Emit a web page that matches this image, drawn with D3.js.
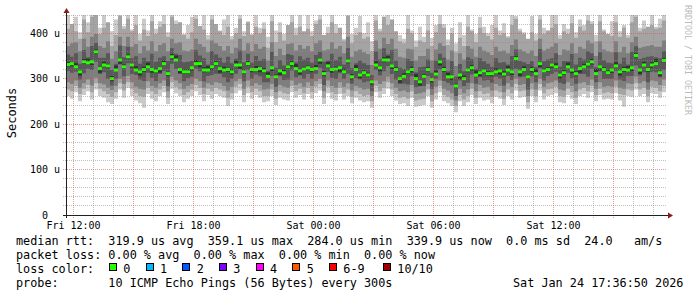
<!DOCTYPE html>
<html>
<head>
<meta charset="utf-8">
<script src="https://cdn.jsdelivr.net/npm/d3@7"></script>
<style>
  html, body { margin: 0; padding: 0; background: #fff; }
  svg { display: block; }
  text { font-family: "DejaVu Sans Mono", monospace; }
  .pre { white-space: pre; }
</style>
</head>
<body>
<svg id="chart"></svg>
<script>
// Median RTT (microseconds) for each 12 minute step, Fri 11:36:50 .. Sat 17:36:50
const medianRtt = [
  331,333,326,315,337,335,337,359,322,330,328,300,319,341,326,348,330,319,315,320,326,320,317,322,333,
  311,348,341,320,315,315,324,333,333,319,319,326,333,322,319,320,315,330,330,315,333,320,320,322,317,
  305,324,304,317,313,326,333,322,317,321,324,320,322,341,311,328,320,321,324,315,339,304,320,308,313,
  308,293,330,324,341,341,328,320,300,305,315,320,300,293,305,320,298,310,337,320,304,304,284,308,300,
  319,324,308,313,317,311,311,315,317,310,319,315,344,315,320,304,320,311,333,317,320,330,326,308,313,
  326,319,311,322,326,332,337,311,326,320,313,319,328,315,320,319,324,351,319,330,320,330,333,313,340
];

// Smoke: sorted ping values per step (ping 1 = fastest ... ping 10 = slowest)
const ping1 = [
  262,256,270,250,264,272,254,276,262,258,248,244,256,276,258,280,262,252,246,236,266,256,250,262,270,
  244,278,268,262,248,256,262,272,264,250,264,256,266,262,258,240,254,268,274,248,268,256,264,258,248,
  250,262,242,258,254,252,270,258,264,254,266,256,268,274,244,268,256,252,266,254,262,246,258,252,248,
  250,236,270,258,266,278,262,252,244,246,240,258,238,240,242,262,236,254,270,250,246,240,226,250,240,
  248,264,244,258,252,254,246,260,256,242,262,254,274,258,260,234,262,248,274,254,262,264,268,248,246,
  264,256,244,262,266,258,270,250,264,254,256,254,268,252,238,262,260,276,262,266,248,268,266,258,270
];
const ping2 = [
  276,272,284,266,278,286,270,290,278,272,266,260,270,290,274,292,278,268,262,260,280,272,266,276,284,
  258,292,282,276,264,270,276,286,280,266,278,272,280,276,272,258,268,282,288,264,282,270,278,272,262,
  262,276,256,272,268,266,284,272,278,268,280,270,282,288,258,282,270,266,280,268,276,260,272,266,262,
  264,250,284,272,280,292,276,266,258,260,256,272,252,254,256,276,250,268,284,264,260,254,240,264,254,
  262,278,258,272,266,268,260,274,270,256,276,268,288,272,274,248,276,262,288,268,276,278,282,262,260,
  278,270,258,276,280,272,284,264,278,268,270,268,282,266,264,276,274,290,276,280,262,282,280,272,284
];
const ping3 = [
  292,288,296,280,290,298,285,302,290,287,280,275,284,300,288,306,292,282,278,276,294,284,280,290,296,
  272,304,296,290,278,284,288,300,294,280,290,286,292,290,284,274,282,294,300,278,296,284,290,286,276,
  278,288,270,286,282,280,296,286,290,282,292,284,294,300,272,296,284,280,292,282,290,274,284,280,276,
  278,262,296,288,294,304,290,280,272,274,270,286,266,268,270,288,264,282,296,278,274,268,252,278,268,
  276,290,272,286,280,282,274,288,284,270,290,282,300,286,288,262,290,276,300,282,290,292,296,276,274,
  292,284,272,290,292,286,298,278,292,282,284,282,296,280,278,290,288,304,290,294,276,296,294,286,298
];
const ping4 = [
  317,313,315,298,312,322,319,337,310,314,300,285,300,331,305,334,310,308,298,295,313,302,295,310,317,
  283,333,322,310,294,301,304,322,316,294,306,308,311,310,303,292,300,311,320,294,319,300,309,305,292,
  292,306,282,305,297,298,318,303,307,300,310,300,311,324,286,315,302,299,312,299,311,289,301,298,292,
  294,273,319,307,316,328,310,298,288,289,287,305,281,283,284,306,278,299,320,295,291,286,262,296,284,
  291,309,289,303,296,297,291,304,300,285,306,297,322,303,304,276,305,292,323,296,306,310,315,291,288,
  313,301,289,310,310,304,322,292,316,299,299,299,317,298,295,306,306,329,307,314,292,315,314,303,319
];
const ping5 = [
  327,327,323,307,332,333,330,355,313,327,323,294,317,333,322,344,324,316,307,315,324,313,313,313,330,
  306,342,339,312,311,311,318,330,325,314,317,319,329,313,316,315,309,328,322,311,329,314,317,314,312,
  303,317,300,308,310,321,327,320,309,317,320,314,319,333,306,326,313,317,315,312,334,298,318,300,309,
  304,287,327,316,336,339,321,316,291,302,310,314,298,285,301,316,292,307,329,315,302,297,280,299,297,
  314,318,306,305,313,307,305,312,309,305,317,308,340,306,317,299,314,309,325,313,316,324,323,300,308,
  324,312,307,313,323,327,331,309,318,316,309,313,325,307,315,317,317,347,310,327,315,324,331,305,336
];
const ping6 = [
  336,336,334,319,343,344,340,364,324,337,332,306,329,344,331,353,333,327,319,326,335,323,322,324,340,
  315,354,351,323,320,320,327,341,337,325,328,329,338,324,326,324,321,340,333,320,338,323,328,326,323,
  314,327,309,319,320,330,339,332,320,326,329,323,330,345,317,337,323,326,326,322,343,310,330,311,318,
  313,296,338,328,347,350,331,325,302,312,319,326,310,296,310,325,301,318,341,326,313,307,289,310,307,
  323,330,318,316,322,316,314,323,321,316,328,318,349,317,327,308,326,321,336,322,325,333,334,312,319,
  335,322,316,324,333,336,343,321,329,325,318,322,336,319,326,328,327,356,321,337,324,336,343,316,345
];
const ping7 = [
  353,348,356,333,363,347,372,379,346,346,356,319,333,373,347,370,345,349,333,346,338,355,337,346,349,
  339,367,355,352,336,337,339,363,351,345,331,361,353,346,335,348,334,344,362,336,355,335,350,340,343,
  317,359,324,341,329,354,352,336,349,342,346,335,352,359,337,340,355,341,348,331,367,323,334,340,334,
  330,308,360,342,367,353,363,340,324,321,343,339,314,325,326,342,313,340,355,346,316,339,304,332,316,
  347,343,322,345,338,333,326,345,335,336,331,350,364,339,336,332,339,325,365,338,342,345,356,326,339,
  338,354,331,346,342,360,356,325,358,341,335,334,358,333,346,331,359,371,343,346,348,349,347,345,361
];
const ping8 = [
  372,378,380,360,388,370,392,398,372,368,382,344,360,392,372,392,370,376,356,372,362,382,360,374,378,
  360,388,378,380,362,360,364,388,376,370,358,384,378,372,362,372,356,368,388,362,378,360,376,366,370,
  340,380,350,366,352,376,378,362,374,366,372,360,378,384,362,364,380,366,372,356,392,348,360,364,358,
  354,330,384,366,390,376,388,366,348,346,366,364,340,350,350,366,340,364,378,372,342,362,328,356,342,
  372,366,348,370,362,358,352,370,360,362,356,374,386,364,360,356,362,350,388,362,366,370,378,352,364,
  362,378,356,370,366,384,378,350,382,364,360,358,382,358,370,356,380,392,368,370,372,374,370,370,384
];
const ping9 = [
  410,420,404,388,430,402,436,440,398,412,424,372,396,438,410,432,404,418,384,408,394,426,398,414,420,
  392,436,420,424,396,388,402,432,416,408,386,430,420,404,396,414,386,400,432,394,424,396,414,400,410,
  368,426,380,402,384,418,424,396,414,404,410,394,420,430,396,400,424,400,412,384,438,378,396,402,388,
  392,360,428,404,436,418,430,404,382,378,410,400,370,384,380,406,372,402,420,412,374,400,358,390,372,
  414,404,380,412,400,394,386,412,396,400,390,418,432,404,398,388,402,384,430,398,406,412,420,388,404,
  398,422,390,414,406,428,420,382,426,404,398,394,424,392,412,390,424,436,404,410,414,418,410,412,428
];
const ping10 = [
  450,418,436,402,450,424,450,438,412,450,396,404,430,450,416,440,408,450,398,432,406,450,410,426,450,
  402,450,428,412,398,418,436,450,404,442,396,450,420,406,430,450,394,412,450,404,426,398,450,412,424,
  392,450,406,424,398,416,450,412,440,400,446,404,428,450,396,414,450,420,402,388,450,398,412,438,400,
  424,382,450,410,436,450,422,402,396,388,446,406,384,414,392,442,390,418,450,420,386,412,378,424,396,
  450,408,398,436,414,400,418,450,406,422,394,450,438,410,402,386,438,398,450,412,404,444,450,396,420,
  410,450,402,430,418,450,426,396,450,408,392,426,440,404,418,396,450,446,412,428,402,450,414,432,450
];

const yTickValues = [0, 100, 200, 300, 400];
const lossLabels = ["0", "1", "2", "3", "4", "5", "6-9", "10/10"];
const lossColors = ["#26ff00", "#00b8ff", "#0059ff", "#7e00ff", "#ff00ff", "#ff5500", "#ff0000", "#a10000"];
const legendRows = [
  "median rtt:  319.9 us avg  359.1 us max  284.0 us min  339.9 us now  0.0 ms sd  24.0   am/s",
  "packet loss: 0.00 % avg  0.00 % max  0.00 % min  0.00 % now",
  "loss color:",
  "probe:       10 ICMP Echo Pings (56 Bytes) every 300s"
];
const stampText = "Sat Jan 24 17:36:50 2026";

const W = 697, H = 297;
const start = new Date(2026, 0, 23, 11, 36, 50);
const end = new Date(2026, 0, 24, 17, 36, 50);
const stepMinutes = 12;
const n = medianRtt.length;

const svg = d3.select("#chart").attr("width", W).attr("height", H);
svg.append("rect").attr("width", W).attr("height", H).attr("fill", "#fff");

const x = d3.scaleTime().domain([start, end]).range([66, 666]);
const y = d3.scaleLinear().domain([0, 440]).range([215, 15]);
const crisp = v => Math.floor(v) + 0.5;

svg.append("clipPath").attr("id", "plotclip")
  .append("rect").attr("x", 67).attr("y", 15).attr("width", 599).attr("height", 200);

const plot = svg.append("g").attr("clip-path", "url(#plotclip)");

// step boundaries
const times = d3.range(n + 1).map(i => d3.timeMinute.offset(start, i * stepMinutes));

// smoke: nested bands, outer (light) to inner (dark)
const bands = [
  { lo: ping1, hi: ping10, color: "#cacaca" },
  { lo: ping2, hi: ping9, color: "#a4a4a4" },
  { lo: ping3, hi: ping8, color: "#7e7e7e" },
  { lo: ping4, hi: ping7, color: "#585858" },
  { lo: ping5, hi: ping6, color: "#323232" }
];

const area = d3.area()
  .curve(d3.curveStepAfter)
  .x(d => x(d.t))
  .y0(d => y(d.lo))
  .y1(d => y(d.hi));

bands.forEach(b => {
  const pts = times.map((t, i) => ({
    t: t,
    lo: b.lo[Math.min(i, n - 1)],
    hi: b.hi[Math.min(i, n - 1)]
  }));
  plot.append("path").datum(pts).attr("fill", b.color).attr("d", area);
});

// grid (drawn over the smoke like rrdtool does)
const grid = svg.append("g");
d3.range(20, 441, 20).forEach(v => {
  const major = v % 100 === 0;
  grid.append("line")
    .attr("x1", 63).attr("x2", 666)
    .attr("y1", crisp(y(v))).attr("y2", crisp(y(v)))
    .attr("stroke", major ? "rgba(222,80,80,0.6)" : "rgba(140,140,140,0.55)")
    .attr("stroke-dasharray", "1,1");
});
d3.timeHour.range(start, end).forEach(t => {
  const major = t.getHours() % 3 === 0;
  grid.append("line")
    .attr("x1", crisp(x(t))).attr("x2", crisp(x(t)))
    .attr("y1", 15).attr("y2", 218)
    .attr("stroke", major ? "rgba(222,80,80,0.6)" : "rgba(140,140,140,0.55)")
    .attr("stroke-dasharray", "1,1");
});

// median rtt, coloured by loss (all 0 loss here)
plot.selectAll(".med")
  .data(medianRtt)
  .enter()
  .append("rect")
  .attr("x", (d, i) => x(times[i]))
  .attr("width", (d, i) => x(times[i + 1]) - x(times[i]))
  .attr("y", d => y(d) - 1.5)
  .attr("height", 3)
  .attr("fill", lossColors[0]);

// axes
svg.append("line")
  .attr("x1", 63).attr("x2", 668).attr("y1", 215.5).attr("y2", 215.5)
  .attr("stroke", "#202020");
svg.append("line")
  .attr("x1", 66.5).attr("x2", 66.5).attr("y1", 218).attr("y2", 12)
  .attr("stroke", "#202020");
svg.append("path")
  .attr("d", "M668,212.5 L673,215.5 L668,218.5 Z")
  .attr("fill", "#8b1a1a");
svg.append("path")
  .attr("d", "M63.5,13 L66.5,8 L69.5,13 Z")
  .attr("fill", "#8b1a1a");

// y tick labels
svg.selectAll(".ylab")
  .data(yTickValues)
  .enter()
  .append("text")
  .attr("x", d => d === 0 ? 48 : 60)
  .attr("y", d => y(d) + 3.6)
  .attr("text-anchor", "end")
  .attr("font-size", 10)
  .attr("fill", "#000")
  .text(d => d === 0 ? "0" : d + " u");

// x tick labels every 6 hours
const labelTimes = d3.timeHour.range(start, end).filter(t => t.getHours() % 6 === 0);
const fmt = d3.timeFormat("%a %H:%M");
svg.selectAll(".xlab")
  .data(labelTimes)
  .enter()
  .append("text")
  .attr("x", d => crisp(x(d)))
  .attr("y", 228.5)
  .attr("text-anchor", "middle")
  .attr("font-size", 10)
  .attr("fill", "#000")
  .text(d => fmt(d));

// y axis title
svg.append("text")
  .attr("transform", "translate(15.5,113) rotate(-90)")
  .attr("text-anchor", "middle")
  .attr("font-size", 12)
  .attr("fill", "#000")
  .text("Seconds");

// watermark
svg.append("text")
  .attr("transform", "translate(684.5,5) rotate(90)")
  .attr("font-size", 8.3)
  .attr("fill", "#bbbbbb")
  .text("RRDTOOL / TOBI OETIKER");

// legend
const rowY = [245.2, 258.8, 272.6, 286.6];
legendRows.forEach((row, i) => {
  svg.append("text")
    .attr("class", "pre")
    .attr("x", 16)
    .attr("y", rowY[i])
    .attr("font-size", 11.8)
    .attr("fill", "#000")
    .text(row);
});

lossLabels.forEach((lab, k) => {
  const bx = k < 7 ? 109 + k * 36.67 : 383;
  svg.append("rect")
    .attr("x", Math.round(bx) + 0.5)
    .attr("y", 263.5)
    .attr("width", 7)
    .attr("height", 7)
    .attr("fill", lossColors[k])
    .attr("stroke", "#000");
  svg.append("text")
    .attr("x", bx + 14.3)
    .attr("y", rowY[2])
    .attr("font-size", 11.8)
    .attr("fill", "#000")
    .text(lab);
});

svg.append("text")
  .attr("x", 513)
  .attr("y", rowY[3])
  .attr("font-size", 11.8)
  .attr("fill", "#000")
  .text(stampText);
</script>
</body>
</html>
